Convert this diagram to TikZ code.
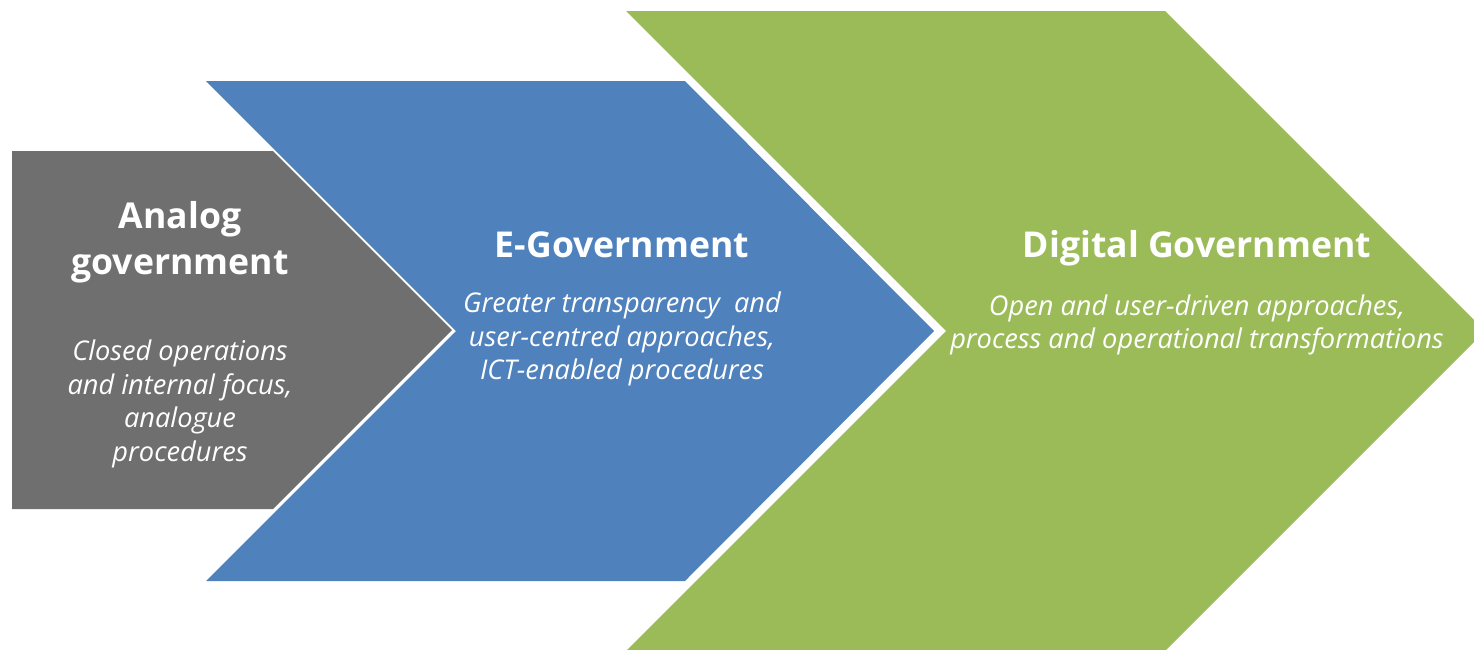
\documentclass[tikz,border=0pt]{standalone}
\usepackage{fontspec}
\setmainfont{Open Sans}
\usepackage{tikz}
\usetikzlibrary{positioning}
\definecolor{analoggray}{HTML}{6F6F6F}
\definecolor{egovblue}{HTML}{4F81BD}
\definecolor{digitalgreen}{HTML}{9BBB59}

\begin{document}
\begin{tikzpicture}[
    x=0.5pt, y=-0.5pt,
    every node/.style={text=white, align=center, inner sep=0pt},
    title node/.style={font=\fontsize{17.8}{22.8}\selectfont\bfseries},
    body node/.style={font=\fontsize{13.6}{16.75}\selectfont\itshape}
]
\useasboundingbox (0,0) rectangle (1474,649);
% Green chevron (Digital Government)
\fill[digitalgreen] (626,11) -- (1165,11) -- (1485,331) -- (1165,651) -- (626,651) -- (946,331) -- cycle;
% Blue chevron (E-Government)
\fill[egovblue] (206,81) -- (685,81) -- (934,331) -- (685,581) -- (206,581) -- (456,331) -- cycle;
% Gray arrow (Analog government)
\fill[analoggray] (12,151) -- (273,151) -- (452,330) -- (273,509) -- (12,509) -- cycle;
% Titles
\node[title node] (AnalogTitle) at (180,242) {Analog\\government};
\node[title node] (EGovTitle) at (622,245) {E-Government};
\node[title node] (DigitalTitle) at (1197,248) {Digital Government};
% Descriptions
\node[body node] (AnalogText) at (180,404) {Closed operations\\and internal focus,\\analogue\\procedures};
\node[body node] (EGovText) at (622,339) {Greater transparency\ \ and\\user-centred approaches,\\ICT-enabled procedures};
\node[body node] (DigitalText) at (1197,325) {Open and user-driven approaches,\\process and operational transformations};
\end{tikzpicture}
\end{document}
